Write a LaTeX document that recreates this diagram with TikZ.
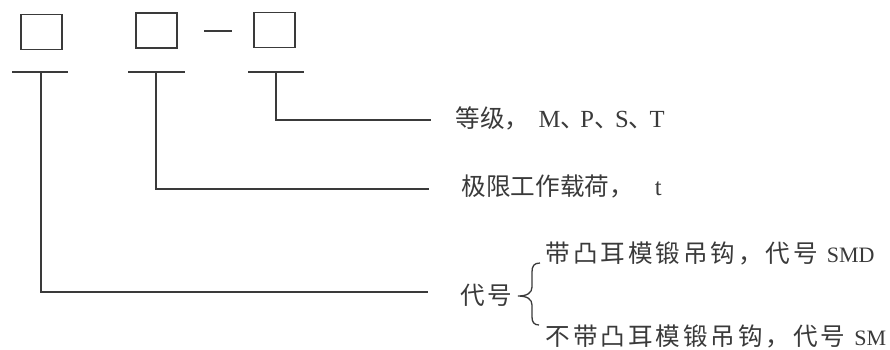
\documentclass[tikz,border=0pt]{standalone}
\usepackage{fontspec}
\setmainfont{Liberation Serif}
\newfontfamily\cjk{Noto Sans CJK SC}
\newfontfamily\cjksp[LetterSpace=11.8]{Noto Sans CJK SC}
\definecolor{ink}{HTML}{3A3A3A}
\newcommand{\dunhao}[1]{\makebox[#1][l]{\cjk 、}}
\begin{document}
\begin{tikzpicture}[x=1pt,y=-1pt,
  line/.style={draw=ink,line width=1.4pt},
  codebox/.style={draw=ink,line width=1.4pt,minimum width=41pt,minimum height=35pt,inner sep=0pt},
  label/.style={anchor=base west,inner sep=0pt,text=ink,font=\fontsize{24.6}{24.6}\selectfont}]
\useasboundingbox (0,0) rectangle (890,349);
% boxes
\node[codebox] (b1) at (41.5,32) {};
\node[codebox] (b2) at (156.5,30.5) {};
\node[codebox] (b3) at (274.5,30) {};
\coordinate (d1) at (204,31);
\coordinate (d2) at (232,31);
\draw[line] (d1) -- (d2);
% T bars
\coordinate (l1) at (12,72);  \coordinate (r1) at (68,72);
\coordinate (l2) at (128,72); \coordinate (r2) at (185,72);
\coordinate (l3) at (248,72); \coordinate (r3) at (304,72);
\draw[line] (l1) -- (r1);
\draw[line] (l2) -- (r2);
\draw[line] (l3) -- (r3);
\coordinate (j1) at (41,72);
\coordinate (j2) at (156,72);
\coordinate (j3) at (276,72);
\coordinate (e3) at (431,120);
\coordinate (e2) at (429,189);
\coordinate (e1) at (428,292);
\draw[line] (j3) |- (e3);
\draw[line] (j2) |- (e2);
\draw[line] (j1) |- (e1);
% labels
\node[label] (t1) at (455.5,127.5) {{\cjk 等级，}\hspace{9pt}M\dunhao{20pt}P\dunhao{21pt}S\dunhao{21pt}T};
\node[label] (t2) at (461.5,195.5) {{\cjk 极限工作载荷，}\hspace{21pt}t};
\node[label] (t3) at (460,304) {{\cjksp 代号}};
\node[label] (t4) at (545.5,262) {{\cjksp 带凸耳模锻吊钩，代号}\hspace{9pt}{\fontsize{22}{22}\selectfont SMD}};
\node[label] (t5) at (545.5,345) {{\cjksp 不带凸耳模锻吊钩，代号}\hspace{9pt}{\fontsize{22}{22}\selectfont SM}};
% brace
\coordinate (bt) at (540,263);
\coordinate (bm) at (518,296);
\coordinate (bb) at (539,325);
\draw[line,line width=1.3pt]
  (bt) .. controls (534,263) and (532,266) .. (532,272)
  -- (532,287) .. controls (532,293) and (527,296) .. (bm)
  .. controls (527,296) and (532,299) .. (532,305)
  -- (532,317) .. controls (532,322) and (534,325) .. (bb);
\end{tikzpicture}
\end{document}
